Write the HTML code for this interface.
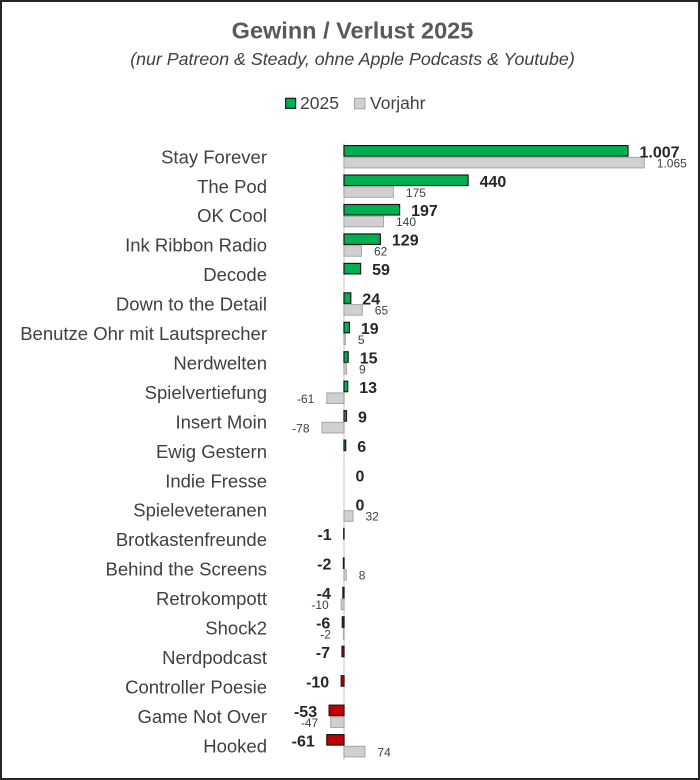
<!DOCTYPE html>
<html>
<head>
<meta charset="utf-8">
<style>
html,body{margin:0;padding:0;background:#fff;}
svg{display:block;}
text{font-family:"Liberation Sans",Arial,sans-serif;}
</style>
</head>
<body>
<svg width="700" height="780" viewBox="0 0 700 780" xmlns="http://www.w3.org/2000/svg">
<rect x="0" y="0" width="700" height="780" fill="#fff"/>
<rect x="1" y="1" width="698" height="778" fill="none" stroke="#262626" stroke-width="2"/>

<!-- Title -->
<text x="352.5" y="38.3" text-anchor="middle" font-size="23.5" font-weight="bold" fill="#595959">Gewinn / Verlust 2025</text>
<text x="352.5" y="65" text-anchor="middle" font-size="17.8" font-style="italic" fill="#404040">(nur Patreon &amp; Steady, ohne Apple Podcasts &amp; Youtube)</text>

<!-- Legend -->
<rect x="285.6" y="98.3" width="10" height="10" fill="#00b050" stroke="#1a1a1a" stroke-width="1.2"/>
<text x="300" y="109" font-size="17.5" fill="#404040">2025</text>
<rect x="354.5" y="98.3" width="10.5" height="10.5" fill="#d0d0d0" stroke="#a6a6a6" stroke-width="1"/>
<text x="370" y="109" font-size="17.5" fill="#404040">Vorjahr</text>

<!-- Axis -->
<line x1="344" y1="143" x2="344" y2="760" stroke="#d9d9d9" stroke-width="1.5"/>

<!-- Category labels -->
<g font-size="18.5" fill="#404040" text-anchor="end">
<text x="267" y="163.3">Stay Forever</text>
<text x="267" y="192.75">The Pod</text>
<text x="267" y="222.2">OK Cool</text>
<text x="267" y="251.65">Ink Ribbon Radio</text>
<text x="267" y="281.1">Decode</text>
<text x="267" y="310.55">Down to the Detail</text>
<text x="267" y="340">Benutze Ohr mit Lautsprecher</text>
<text x="267" y="369.45">Nerdwelten</text>
<text x="267" y="398.9">Spielvertiefung</text>
<text x="267" y="428.35">Insert Moin</text>
<text x="267" y="457.8">Ewig Gestern</text>
<text x="267" y="487.25">Indie Fresse</text>
<text x="267" y="516.7">Spieleveteranen</text>
<text x="267" y="546.15">Brotkastenfreunde</text>
<text x="267" y="575.6">Behind the Screens</text>
<text x="267" y="605.05">Retrokompott</text>
<text x="267" y="634.5">Shock2</text>
<text x="267" y="663.95">Nerdpodcast</text>
<text x="267" y="693.4">Controller Poesie</text>
<text x="267" y="722.85">Game Not Over</text>
<text x="267" y="752.3">Hooked</text>
</g>

<!-- 2025 bars (green/red) : y = c-11.1, h=10.5 -->
<g stroke="#1a1a1a" stroke-width="1.2">
<rect x="344" y="145.6" width="284" height="10.5" fill="#00b050"/>
<rect x="344" y="175.05" width="124.1" height="10.5" fill="#00b050"/>
<rect x="344" y="204.5" width="55.6" height="10.5" fill="#00b050"/>
<rect x="344" y="233.95" width="36.4" height="10.5" fill="#00b050"/>
<rect x="344" y="263.4" width="16.6" height="10.5" fill="#00b050"/>
<rect x="344" y="292.85" width="6.8" height="10.5" fill="#00b050"/>
<rect x="344" y="322.3" width="5.4" height="10.5" fill="#00b050"/>
<rect x="344" y="351.75" width="4.2" height="10.5" fill="#00b050"/>
<rect x="344" y="381.2" width="3.7" height="10.5" fill="#00b050"/>
<rect x="344" y="410.65" width="2.5" height="10.5" fill="#00b050"/>
<rect x="344" y="440.1" width="1.7" height="10.5" fill="#00b050"/>
<rect x="343.7" y="528.45" width="0.3" height="10.5" fill="#c00000"/>
<rect x="343.4" y="557.9" width="0.6" height="10.5" fill="#c00000"/>
<rect x="342.9" y="587.35" width="1.1" height="10.5" fill="#c00000"/>
<rect x="342.3" y="616.8" width="1.7" height="10.5" fill="#c00000"/>
<rect x="342" y="646.25" width="2" height="10.5" fill="#c00000"/>
<rect x="341.2" y="675.7" width="2.8" height="10.5" fill="#c00000"/>
<rect x="329.1" y="705.15" width="14.9" height="10.5" fill="#c00000"/>
<rect x="326.8" y="734.6" width="17.2" height="10.5" fill="#c00000"/>
</g>

<!-- Vorjahr bars (gray) : y = c+0.6, h=10.6 -->
<g stroke="#a6a6a6" stroke-width="1" fill="#d0d0d0">
<rect x="344" y="157.3" width="300.3" height="10.6"/>
<rect x="344" y="186.75" width="49.4" height="10.6"/>
<rect x="344" y="216.2" width="39.5" height="10.6"/>
<rect x="344" y="245.65" width="17.5" height="10.6"/>
<rect x="344" y="304.55" width="18.3" height="10.6"/>
<rect x="344" y="334" width="1.4" height="10.6"/>
<rect x="344" y="363.45" width="2.5" height="10.6"/>
<rect x="326.8" y="392.9" width="17.2" height="10.6"/>
<rect x="322" y="422.35" width="22" height="10.6"/>
<rect x="344" y="510.7" width="9" height="10.6"/>
<rect x="344" y="569.6" width="2.3" height="10.6"/>
<rect x="341.2" y="599.05" width="2.8" height="10.6"/>
<rect x="343.4" y="628.5" width="0.6" height="10.6"/>
<rect x="330.7" y="716.85" width="13.3" height="10.6"/>
<rect x="344" y="746.3" width="20.9" height="10.6"/>
</g>

<!-- 2025 value labels -->
<g font-size="16" font-weight="bold" fill="#262626">
<text x="639.5" y="157.3">1.007</text>
<text x="479.6" y="186.75">440</text>
<text x="411.1" y="216.2">197</text>
<text x="391.9" y="245.65">129</text>
<text x="372.1" y="275.1">59</text>
<text x="362.3" y="304.55">24</text>
<text x="360.9" y="334">19</text>
<text x="359.7" y="363.45">15</text>
<text x="359.2" y="392.9">13</text>
<text x="358" y="422.35">9</text>
<text x="357.2" y="451.8">6</text>
<text x="355.5" y="481.25">0</text>
<text x="355.5" y="510.7">0</text>
</g>
<g font-size="16" font-weight="bold" fill="#262626" text-anchor="end">
<text x="331.7" y="540.15">-1</text>
<text x="331.4" y="569.6">-2</text>
<text x="330.9" y="599.05">-4</text>
<text x="330.3" y="628.5">-6</text>
<text x="330" y="657.95">-7</text>
<text x="329.2" y="687.4">-10</text>
<text x="317.1" y="716.85">-53</text>
<text x="314.8" y="746.3">-61</text>
</g>

<!-- Vorjahr value labels -->
<g font-size="12" fill="#404040">
<text x="656.8" y="167.3">1.065</text>
<text x="405.9" y="196.75">175</text>
<text x="396" y="226.2">140</text>
<text x="374" y="255.65">62</text>
<text x="374.8" y="314.55">65</text>
<text x="357.9" y="344">5</text>
<text x="359" y="373.45">9</text>
<text x="365.5" y="520.7">32</text>
<text x="358.8" y="579.6">8</text>
<text x="377.4" y="756.3">74</text>
</g>
<g font-size="12" fill="#404040" text-anchor="end">
<text x="314.3" y="402.9">-61</text>
<text x="309.5" y="432.35">-78</text>
<text x="328.7" y="609.05">-10</text>
<text x="330.9" y="638.5">-2</text>
<text x="318.2" y="726.85">-47</text>
</g>
</svg>
</body>
</html>
